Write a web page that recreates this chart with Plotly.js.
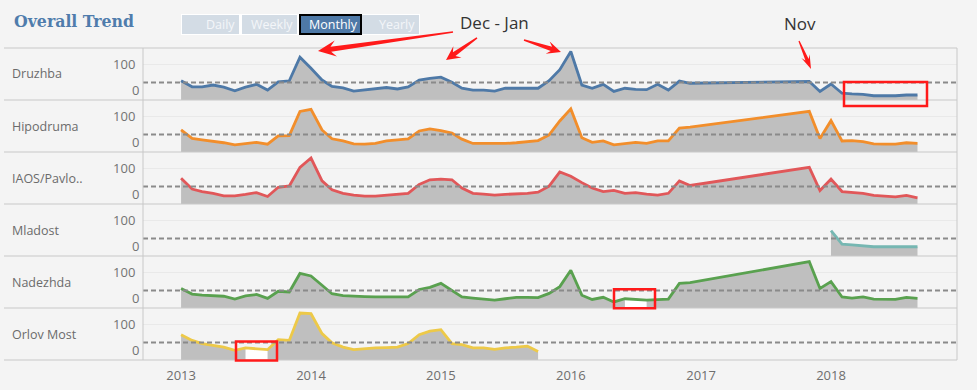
<!DOCTYPE html>
<html><head><meta charset="utf-8">
<script src="https://cdn.plot.ly/plotly-3.0.1.min.js"></script>
<style>html,body{margin:0;padding:0;background:#f4f4f4;}#chart{width:977px;height:390px;}</style>
</head><body><div id="chart"></div>
<script>
// ---------------- DATA ----------------
const months = [
 '2013-01','2013-02','2013-03','2013-04','2013-05','2013-06','2013-07','2013-08','2013-09','2013-10','2013-11','2013-12',
 '2014-01','2014-02','2014-03','2014-04','2014-05','2014-06','2014-07','2014-08','2014-09','2014-10','2014-11','2014-12',
 '2015-01','2015-02','2015-03','2015-04','2015-05','2015-06','2015-07','2015-08','2015-09','2015-10','2015-11','2015-12',
 '2016-01','2016-02','2016-03','2016-04','2016-05','2016-06','2016-07','2016-08','2016-09','2016-10','2016-11','2016-12',
 '2017-01','2017-02','2017-03','2017-04','2017-05','2017-06','2017-07','2017-08','2017-09','2017-10','2017-11','2017-12',
 '2018-01','2018-02','2018-03','2018-04','2018-05','2018-06','2018-07','2018-08','2018-09'];
const categories = ['Druzhba','Hipodruma','IAOS/Pavlo..','Mladost','Nadezhda','Orlov Most'];
const N = null;
const druzhba = [54,37,37,42,36,26,36,44,28,51,54,120,
                 89,56,38,34,25,28,31,35,31,37,56,61,
                 64,50,33,28,28,25,33,33,33,33,54,85,
                 136,42,33,44,24,33,30,29,44,28,53,47,
                 N,N,N,N,N,N,N,N,N,N,52,24,
                 45,19,17,16,12,11,12,14,14];
const hipodruma = [62,38,34,31,26,20,24,27,22,45,46,114,
                   120,62,37,31,23,22,24,31,34,37,59,65,
                   60,53,36,24,24,23,24,26,28,32,48,87,
                   121,40,27,31,20,24,27,24,31,31,67,70,
                   N,N,N,N,N,N,N,N,N,N,114,38,
                   88,31,32,29,23,22,22,26,24];
const iaos = [72,42,35,30,23,23,27,32,21,47,51,103,
              129,65,40,30,25,22,22,25,28,30,55,68,
              70,68,45,30,28,25,27,28,30,33,50,90,
              78,60,45,35,38,30,32,28,25,30,65,52,
              N,N,N,N,N,N,N,N,N,N,103,38,
              70,35,33,30,24,22,20,24,17];
const mladost = [N,N,N,N,N,N,N,N,N,N,N,N,
                 N,N,N,N,N,N,N,N,N,N,N,N,
                 N,N,N,N,N,N,N,N,N,N,N,N,
                 N,N,N,N,N,N,N,N,N,N,N,N,
                 N,N,N,N,N,N,N,N,N,N,N,N,
                 71,33,31,28,26,26,26,28,26];
const nadezhda = [55,39,36,34,33,25,34,38,27,47,45,97,
                  90,64,40,35,33,32,31,31,30,31,52,58,
                  69,48,31,28,25,22,26,30,30,29,41,60,
                  106,36,24,30,17,26,N,22,23,25,69,71,
                  N,N,N,N,N,N,N,N,N,N,130,55,
                  74,31,28,31,25,25,24,30,27];
const orlovMost = [71,55,46,41,36,27,34,N,29,57,55,132,
                   130,74,48,36,29,32,34,35,36,46,71,81,
                   85,46,43,34,34,30,34,36,39,24,N,N,
                   N,N,N,N,N,N,N,N,N,N,N,N,
                   N,N,N,N,N,N,N,N,N,N,N,N,
                   N,N,N,N,N,N,N,N,N];
const fillBreaks = {'Nadezhda':'2016-07','Orlov Most':'2013-08'};
const refValue = 49;
const yTickTop = [100], yTickBottom = [0];
const yearTicks = ['2013-01-01','2014-01-01','2015-01-01','2016-01-01','2017-01-01','2018-01-01'];
const yearLabels = ['2013','2014','2015','2016','2017','2018'];
const buttonLabels = ['Daily','Weekly','Monthly','Yearly'];
const titleText = 'Overall Trend';
const noteDecJan = 'Dec - Jan';
const noteNov = 'Nov';

// ---------------- STYLE / LAYOUT ----------------
const series = [druzhba, hipodruma, iaos, mladost, nadezhda, orlovMost];
const colors = ['#4e79a7','#f28e2b','#e15759','#76b7b2','#59a14f','#edc948'];
const W = 977, H = 390, L = 143, R = 957, T = 48, B = 359.6;
const px2x = p => (p - L) / (R - L);
const px2y = p => (B - p) / (B - T);
const FONT = 'Open Sans, Segoe UI, sans-serif';

const traces = [];
series.forEach((vals, i) => {
  const ya = i === 0 ? 'y' : 'y' + (i + 1);
  const br = fillBreaks[categories[i]];
  const fx = [], fy = [];
  months.forEach((m, j) => { if (vals[j] !== null || m === br) { fx.push(m); fy.push(vals[j]); } });
  traces.push({type:'scatter', mode:'lines', x:fx, y:fy, xaxis:'x', yaxis:ya, connectgaps:false,
    line:{width:0, color:'rgba(0,0,0,0)'}, fill:'tozeroy', fillcolor:'#bfbfbf', hoverinfo:'skip', showlegend:false});
  if (br) {
    const j = months.indexOf(br);
    traces.push({type:'scatter', mode:'lines', x:[months[j-1], months[j+1]], y:[vals[j-1], vals[j+1]],
      xaxis:'x', yaxis:ya, line:{width:0, color:'rgba(0,0,0,0)'}, fill:'tozeroy', fillcolor:'#ffffff',
      hoverinfo:'skip', showlegend:false});
  }
  const lx = [], ly = [];
  months.forEach((m, j) => { if (vals[j] !== null) { lx.push(m); ly.push(vals[j]); } });
  traces.push({type:'scatter', mode:'lines', x:lx, y:ly, xaxis:'x', yaxis:ya,
    line:{width:2.8, color:colors[i]}, hoverinfo:'skip', showlegend:false});
  traces.push({type:'scatter', mode:'lines', x:[], y:[], xaxis:'x', yaxis:'y' + (i + 7), showlegend:false});
});

const layout = {
  width: W, height: H,
  margin: {l: L, r: W - R, t: T, b: H - B},
  paper_bgcolor: '#f4f4f4', plot_bgcolor: '#f4f4f4',
  showlegend: false, hovermode: false,
  font: {family: FONT, color: '#6e6e6e', size: 13},
  xaxis: {type:'date', range:['2012-09-16','2018-12-21'], anchor:'y6',
    tickvals: yearTicks, ticktext: yearLabels, showgrid:false, zeroline:false, showline:false,
    ticks:'outside', ticklen:3, tickcolor:'rgba(0,0,0,0)', tickfont:{size:13, color:'#6e6e6e'}},
  shapes: [], annotations: []
};
for (let i = 0; i < 6; i++) {
  const k = i + 1;
  const dom = [(5 - i) / 6, (6 - i) / 6];
  layout['yaxis' + (k === 1 ? '' : k)] = {domain: dom, anchor:'x', range:[0,146], fixedrange:true,
    tickvals: yTickTop, ticktext: yTickTop.map(String), showgrid:true, gridcolor:'#e9e9e9', gridwidth:1,
    zeroline:false, showline:false, ticks:'outside', ticklen:4, tickcolor:'rgba(0,0,0,0)',
    tickfont:{size:13, color:'#737373'}};
  layout['yaxis' + (k + 6)] = {overlaying: k === 1 ? 'y' : 'y' + k, anchor:'x', range:[0,146], fixedrange:true,
    tickvals: yTickBottom, ticktext: yTickBottom.map(String), ticklabelposition:'outside top',
    showgrid:false, zeroline:false, showline:false, ticks:'outside', ticklen:4, tickcolor:'rgba(0,0,0,0)',
    tickfont:{size:13, color:'#737373'}};
  layout.shapes.push({type:'line', xref:'paper', x0:0, x1:1, yref: k === 1 ? 'y' : 'y' + k, y0:refValue, y1:refValue,
    line:{color:'#8a8a8a', width:2, dash:'5px,3px'}, layer:'above'});
  layout.annotations.push({xref:'paper', yref:'paper', x:px2x(10), y:(dom[0] + dom[1]) / 2, xanchor:'left', yanchor:'middle',
    text: categories[i], showarrow:false, font:{size:12.5, color:'#6b6b6b', family:FONT}});
}
for (let b = 0; b <= 6; b++) {
  layout.shapes.push({type:'line', xref:'paper', yref:'paper', x0:px2x(4), x1:1, y0:b / 6, y1:b / 6,
    line:{color:'#c8c8c8', width:1}, layer:'above'});
}
layout.shapes.push({type:'line', xref:'paper', yref:'paper', x0:0, x1:0, y0:0, y1:1, line:{color:'#c8c8c8', width:1}});
layout.shapes.push({type:'line', xref:'paper', yref:'paper', x0:1, x1:1, y0:0, y1:1, line:{color:'#c8c8c8', width:1}});

const rectPx = (x0, y0, x1, y1, extra) => Object.assign({type:'rect', xref:'paper', yref:'paper',
  x0:px2x(x0), x1:px2x(x1), y0:px2y(y1), y1:px2y(y0)}, extra);
layout.shapes.push(rectPx(181, 14, 420, 35, {fillcolor:'#ffffff', line:{width:0}}));
const btn = [[182,239],[242,297],[300,361],[362,419]];
btn.forEach((b, i) => {
  const active = i === 2;
  layout.shapes.push(rectPx(b[0], 15, b[1], 34, {fillcolor: active ? '#4e79a7' : '#d3dce5',
    line:{width: active ? 2 : 0, color:'#000000'}}));
  layout.annotations.push({xref:'paper', yref:'paper', x: px2x(active ? (b[0] + b[1]) / 2 + 3 : b[1] - 2), y: px2y(24.5),
    xanchor: active ? 'center' : 'right', yanchor:'middle', text: buttonLabels[i], showarrow:false,
    font:{size:12.5, color: active ? '#ffffff' : '#f3f6f9', family:FONT}});
});
layout.annotations.push({xref:'paper', yref:'paper', x:px2x(12), y:px2y(21), xanchor:'left', yanchor:'middle',
  text:'<b>' + titleText + '</b>', showarrow:false,
  font:{size:17.5, color:'#4f7cac', family:'DejaVu Serif Condensed, Liberation Serif, serif'}});
layout.annotations.push({xref:'paper', yref:'paper', x:px2x(494), y:px2y(23), xanchor:'center', yanchor:'middle',
  text:noteDecJan, showarrow:false, font:{size:17, color:'#333333', family:FONT}});
layout.annotations.push({xref:'paper', yref:'paper', x:px2x(800), y:px2y(24), xanchor:'center', yanchor:'middle',
  text:noteNov, showarrow:false, font:{size:17, color:'#333333', family:FONT}});

[[844,82,927,106],[614,289,655,308],[236,341,277,360]].forEach(r => {
  layout.shapes.push(rectPx(r[0], r[1], r[2], r[3], {line:{color:'#ff1a1a', width:2.5}, fillcolor:'rgba(0,0,0,0)', layer:'above'}));
});
function arrow(x0, y0, x1, y1, tw, sw, hw, hl) {
  const len = Math.hypot(x1 - x0, y1 - y0), dx = (x1 - x0) / len, dy = (y1 - y0) / len, nx = -dy, ny = dx;
  const nk = [x1 - dx * hl * 0.72, y1 - dy * hl * 0.72], bb = [x1 - dx * hl, y1 - dy * hl];
  const pts = [
    [x0 + nx * tw / 2, y0 + ny * tw / 2], [nk[0] + nx * sw / 2, nk[1] + ny * sw / 2],
    [bb[0] + nx * hw / 2, bb[1] + ny * hw / 2], [x1, y1],
    [bb[0] - nx * hw / 2, bb[1] - ny * hw / 2], [nk[0] - nx * sw / 2, nk[1] - ny * sw / 2],
    [x0 - nx * tw / 2, y0 - ny * tw / 2]];
  const path = pts.map((p, i) => (i ? 'L' : 'M') + px2x(p[0]).toFixed(5) + ',' + px2y(p[1]).toFixed(5)).join(' ') + ' Z';
  return {type:'path', xref:'paper', yref:'paper', path, fillcolor:'#ff1a1a', line:{width:0}, layer:'above'};
}
layout.shapes.push(arrow(453, 32, 318, 51, 1.5, 5, 16, 18));
layout.shapes.push(arrow(477, 38, 446, 60, 1.5, 4.5, 14, 14));
layout.shapes.push(arrow(524, 40, 561, 52, 1.5, 4.5, 13, 14));
layout.shapes.push(arrow(799, 41, 811, 69, 1.2, 3.5, 9, 14));

Plotly.newPlot('chart', traces, layout, {displayModeBar:false, staticPlot:true});
</script></body></html>
